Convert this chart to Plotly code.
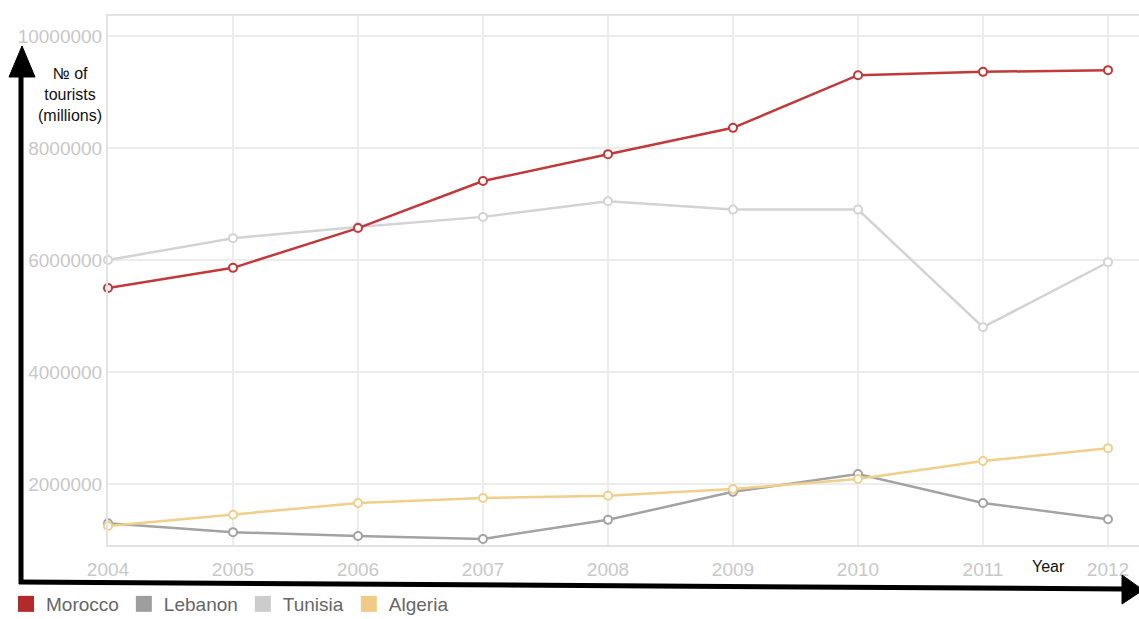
import plotly.graph_objects as go

years = [2004, 2005, 2006, 2007, 2008, 2009, 2010, 2011, 2012]
morocco = [5500000, 5860000, 6570000, 7410000, 7890000, 8360000, 9300000, 9360000, 9390000]
tunisia = [6000000, 6390000, 6590000, 6770000, 7050000, 6900000, 6900000, 4800000, 5960000]
lebanon = [1300000, 1140000, 1070000, 1020000, 1360000, 1860000, 2180000, 1660000, 1370000]
algeria = [1250000, 1450000, 1660000, 1750000, 1790000, 1910000, 2090000, 2410000, 2640000]

series = [
    ("Morocco", morocco, "#c0393b", "#b22a2a"),
    ("Lebanon", lebanon, "#a3a3a3", "#9e9e9e"),
    ("Tunisia", tunisia, "#d3d3d3", "#cccccc"),
    ("Algeria", algeria, "#f0cf8b", "#efcb85"),
]
ytick_vals = [2000000, 4000000, 6000000, 8000000, 10000000]

W, H = 1139, 619
L, R, T, B = 108, 0, 16, 74
PW, PH = W - L - R, H - T - B

def px(x):
    return (x - L) / PW

def py(y):
    return (H - B - y) / PH

fig = go.Figure()
order = [2, 1, 3, 0]
for i in order:
    name, vals, col, _ = series[i]
    fig.add_trace(go.Scatter(
        x=years, y=vals, mode="lines+markers", name=name, showlegend=False,
        line=dict(color=col, width=2.5),
        marker=dict(symbol="circle", size=8, color="white", line=dict(color=col, width=2)),
        cliponaxis=False,
    ))
for name, vals, col, lcol in series:
    fig.add_trace(go.Scatter(
        x=[None], y=[None], mode="markers", name=name, showlegend=True,
        marker=dict(symbol="square", size=17, color=lcol),
    ))

shapes = []
shapes.append(dict(type="line", xref="paper", yref="paper",
                   x0=px(21), y0=py(584), x1=px(21), y1=py(70),
                   line=dict(color="black", width=5)))
shapes.append(dict(type="path", xref="paper", yref="paper",
                   path=f"M {px(22)} {py(46)} L {px(9)} {py(77)} L {px(35)} {py(77)} Z",
                   fillcolor="black", line=dict(color="black", width=1)))
shapes.append(dict(type="line", xref="paper", yref="paper",
                   x0=px(19), y0=py(582), x1=px(1124), y1=py(589),
                   line=dict(color="black", width=5)))
shapes.append(dict(type="path", xref="paper", yref="paper",
                   path=f"M {px(1143)} {py(590)} L {px(1122)} {py(575)} L {px(1122)} {py(604)} Z",
                   fillcolor="black", line=dict(color="black", width=1)))

annotations = [
    dict(xref="paper", yref="paper", x=px(70), y=py(95), text="№ of<br>tourists<br>(millions)",
         showarrow=False, font=dict(family="Liberation Sans, Arial", size=16, color="#111"),
         xanchor="center", yanchor="middle", align="center"),
    dict(xref="paper", yref="paper", x=px(1048), y=py(566), text="Year",
         showarrow=False, font=dict(family="Liberation Sans, Arial", size=16, color="#111"),
         xanchor="center", yanchor="middle"),
]

fig.update_layout(
    width=W, height=H,
    margin=dict(l=L, r=R, t=T, b=B, pad=0, autoexpand=False),
    paper_bgcolor="white", plot_bgcolor="white",
    font=dict(family="Liberation Sans, Arial", size=19, color="#c8c8c8"),
    xaxis=dict(range=[2004, 2004 + (PW / 125.0)], tickvals=years, ticktext=[str(y) for y in years],
               showgrid=True, gridcolor="#ececec", gridwidth=2, zeroline=False,
               showline=True, linecolor="#e3e3e3", linewidth=2, mirror=True, automargin=False,
               tickfont=dict(size=19, color="#c8c8c8"), ticks="", ticklabelstandoff=6),
    yaxis=dict(range=[2000000 - 61 / 56 * 1e6, 10000000 + 20 / 56 * 1e6], tickvals=ytick_vals,
               ticktext=[str(v) for v in ytick_vals], automargin=False,
               showgrid=True, gridcolor="#ececec", gridwidth=2, zeroline=False,
               showline=True, linecolor="#e3e3e3", linewidth=2, mirror=True,
               tickfont=dict(size=19, color="#c8c8c8"), ticks=""),
    legend=dict(orientation="h", x=px(6), y=py(585), xanchor="left", yanchor="top",
                font=dict(size=19, color="#666666"), bgcolor="rgba(0,0,0,0)",
                itemsizing="trace", tracegroupgap=0),
    shapes=shapes, annotations=annotations, showlegend=True,
)

fig.write_html("out.html")
